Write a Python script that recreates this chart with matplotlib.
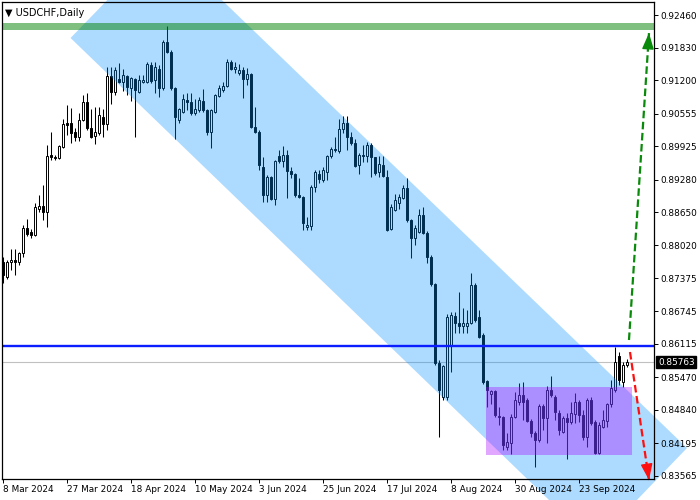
import matplotlib
matplotlib.use("Agg")
import matplotlib.pyplot as plt
from matplotlib.patches import Polygon, Rectangle
from matplotlib.transforms import blended_transform_factory
import numpy as np

plt.rcParams['font.family'] = ['DejaVu Sans']

chart_title = "\u25BC USDCHF,Daily"

opens = [
    0.87693, 0.87404, 0.87693, 0.87732, 0.87693, 0.87867, 0.88350, 0.88272, 0.88215, 0.88716,
    0.88774, 0.88658, 0.89759, 0.89720, 0.89701, 0.89913, 0.90376, 0.90376, 0.90202, 0.90106,
    0.90434, 0.90781, 0.90280, 0.90125, 0.90183, 0.90492, 0.90357, 0.91283, 0.90974, 0.91225,
    0.91167, 0.91283, 0.91052, 0.91225, 0.90974, 0.91167, 0.91167, 0.91496, 0.91206, 0.91418,
    0.91052, 0.91939, 0.91746, 0.91052, 0.90434, 0.90588, 0.90820, 0.90781, 0.90569, 0.90627,
    0.90801, 0.90627, 0.90202, 0.90588, 0.90897, 0.91013, 0.91090, 0.91553, 0.91418, 0.91341,
    0.91399, 0.91225, 0.91322, 0.90299, 0.90202, 0.89527, 0.88987, 0.89334, 0.88909, 0.89739,
    0.89643, 0.89759, 0.89450, 0.89392, 0.88987, 0.88948, 0.88369, 0.88388, 0.89141, 0.89392,
    0.89276, 0.89430, 0.89739, 0.89874, 0.89836, 0.90260, 0.90376, 0.90106, 0.89990, 0.89566,
    0.89759, 0.89739, 0.89952, 0.89720, 0.89430, 0.89566, 0.89334, 0.88330, 0.88697, 0.88832,
    0.88929, 0.89122, 0.88504, 0.88157, 0.88272, 0.88601, 0.88253, 0.87790, 0.87269, 0.85744,
    0.85088, 0.85088, 0.86092, 0.86651, 0.86516, 0.86458, 0.86458, 0.86516, 0.87250, 0.86632,
    0.86285, 0.85397, 0.85146, 0.85204, 0.84721, 0.84702, 0.84123, 0.84200, 0.84702, 0.84991,
    0.85127, 0.85030, 0.84625, 0.84393, 0.84258, 0.84914, 0.84683, 0.85223, 0.85088, 0.84779,
    0.84412, 0.84683, 0.84605, 0.84760, 0.84991, 0.84741, 0.84316, 0.85030, 0.84605, 0.84007,
    0.84509, 0.84625, 0.84953, 0.85223, 0.85879, 0.85377, 0.85706,
]
highs = [
    0.87790, 0.87732, 0.87944, 0.87944, 0.87880, 0.88408, 0.88523, 0.88330, 0.88832, 0.88987,
    0.89180, 0.89952, 0.90202, 0.89759, 0.89952, 0.90453, 0.90724, 0.90666, 0.90280, 0.90569,
    0.90917, 0.90955, 0.90646, 0.90685, 0.90685, 0.90646, 0.91457, 0.91457, 0.91457, 0.91534,
    0.91418, 0.91303, 0.91264, 0.91245, 0.91303, 0.91303, 0.91553, 0.91553, 0.91553, 0.91496,
    0.91978, 0.92248, 0.91785, 0.91071, 0.90666, 0.90936, 0.90955, 0.90955, 0.90839, 0.90878,
    0.91032, 0.90646, 0.90646, 0.90936, 0.91110, 0.91167, 0.91611, 0.91592, 0.91553, 0.91515,
    0.91457, 0.91438, 0.91341, 0.90685, 0.90241, 0.89720, 0.89373, 0.89353, 0.89662, 0.89855,
    0.89932, 0.89855, 0.89527, 0.89411, 0.89315, 0.88967, 0.88562, 0.89180, 0.89469, 0.89469,
    0.89527, 0.89759, 0.89913, 0.90106, 0.90453, 0.90511, 0.90511, 0.90202, 0.90067, 0.89797,
    0.89952, 0.90009, 0.89990, 0.89720, 0.89739, 0.89739, 0.89469, 0.88813, 0.89006, 0.89006,
    0.89180, 0.89315, 0.88523, 0.88408, 0.88716, 0.88755, 0.88292, 0.87829, 0.87288, 0.85802,
    0.85706, 0.86690, 0.86728, 0.86728, 0.87114, 0.86806, 0.86767, 0.87481, 0.87288, 0.86767,
    0.86323, 0.85416, 0.85223, 0.85223, 0.84895, 0.84721, 0.84393, 0.84760, 0.85184, 0.85358,
    0.85377, 0.85069, 0.84663, 0.84432, 0.84953, 0.84953, 0.85300, 0.85493, 0.85127, 0.84837,
    0.84721, 0.84779, 0.84991, 0.85165, 0.85030, 0.84837, 0.85069, 0.85088, 0.84644, 0.84605,
    0.84837, 0.84972, 0.85416, 0.86053, 0.85956, 0.85763, 0.85821,
]
lows = [
    0.87288, 0.87365, 0.87539, 0.87443, 0.87636, 0.87790, 0.88195, 0.88157, 0.88195, 0.88658,
    0.88504, 0.88369, 0.89662, 0.89662, 0.89681, 0.89894, 0.90145, 0.89990, 0.90029, 0.90029,
    0.90415, 0.90241, 0.90087, 0.89971, 0.90145, 0.90106, 0.90241, 0.90743, 0.90917, 0.91148,
    0.90994, 0.90917, 0.90801, 0.90106, 0.90955, 0.91148, 0.91148, 0.91148, 0.90955, 0.90878,
    0.91013, 0.91727, 0.91013, 0.90067, 0.90376, 0.90569, 0.90627, 0.90531, 0.90531, 0.90588,
    0.90588, 0.90145, 0.89894, 0.90569, 0.90878, 0.90974, 0.91071, 0.91399, 0.91341, 0.91303,
    0.90859, 0.91110, 0.90280, 0.90183, 0.89469, 0.88851, 0.88851, 0.88890, 0.88794, 0.89604,
    0.89527, 0.88929, 0.89315, 0.88948, 0.88929, 0.88311, 0.88311, 0.88311, 0.89044, 0.89218,
    0.89237, 0.89276, 0.89701, 0.89816, 0.89797, 0.90183, 0.89855, 0.89952, 0.89527, 0.89392,
    0.89623, 0.89623, 0.89334, 0.89373, 0.89334, 0.89334, 0.88292, 0.88311, 0.88678, 0.88716,
    0.88909, 0.88465, 0.87771, 0.88022, 0.88253, 0.88234, 0.87674, 0.87230, 0.85706, 0.84316,
    0.85030, 0.85030, 0.85570, 0.86323, 0.86323, 0.86323, 0.86323, 0.86497, 0.86535, 0.86227,
    0.85339, 0.84895, 0.84953, 0.84702, 0.84548, 0.84065, 0.84065, 0.83988, 0.84683, 0.84934,
    0.84644, 0.84605, 0.84316, 0.83737, 0.84219, 0.84451, 0.84200, 0.85088, 0.84644, 0.84355,
    0.84393, 0.83891, 0.84567, 0.84586, 0.84605, 0.84258, 0.84123, 0.84548, 0.83988, 0.83988,
    0.84490, 0.84509, 0.84895, 0.85184, 0.85320, 0.85281, 0.85667,
]
closes = [
    0.87443, 0.87693, 0.87732, 0.87693, 0.87867, 0.88350, 0.88234, 0.88215, 0.88755, 0.88774,
    0.88658, 0.89739, 0.89720, 0.89701, 0.89932, 0.90357, 0.90338, 0.90183, 0.90106, 0.90434,
    0.90781, 0.90280, 0.90106, 0.90202, 0.90531, 0.90357, 0.91283, 0.90974, 0.91399, 0.91167,
    0.91303, 0.91071, 0.91245, 0.91013, 0.91206, 0.91206, 0.91515, 0.91187, 0.91457, 0.91052,
    0.91939, 0.91746, 0.91052, 0.90492, 0.90646, 0.90839, 0.90781, 0.90569, 0.90646, 0.90820,
    0.90627, 0.90202, 0.90627, 0.90917, 0.91052, 0.91090, 0.91553, 0.91418, 0.91457, 0.91399,
    0.91225, 0.91322, 0.90299, 0.90202, 0.89566, 0.88987, 0.89334, 0.88909, 0.89643, 0.89643,
    0.89759, 0.89450, 0.89392, 0.88987, 0.88948, 0.88446, 0.88408, 0.89141, 0.89430, 0.89295,
    0.89469, 0.89739, 0.89874, 0.89855, 0.90260, 0.90376, 0.90106, 0.89990, 0.89546, 0.89759,
    0.89739, 0.89952, 0.89720, 0.89411, 0.89585, 0.89353, 0.88311, 0.88755, 0.88890, 0.88948,
    0.89122, 0.88504, 0.88157, 0.88350, 0.88601, 0.88253, 0.87790, 0.87269, 0.85744, 0.85223,
    0.85686, 0.86632, 0.86671, 0.86516, 0.86458, 0.86516, 0.86516, 0.87250, 0.86574, 0.86246,
    0.85377, 0.85223, 0.85204, 0.84741, 0.84702, 0.84162, 0.84219, 0.84702, 0.85030, 0.85127,
    0.84991, 0.84625, 0.84393, 0.84258, 0.84914, 0.84683, 0.85223, 0.85127, 0.84798, 0.84451,
    0.84683, 0.84605, 0.84779, 0.84991, 0.84741, 0.84316, 0.85030, 0.84586, 0.84007, 0.84548,
    0.84644, 0.84953, 0.85262, 0.85763, 0.85416, 0.85706, 0.85763,
]

date_labels = ["8 Mar 2024", "27 Mar 2024", "18 Apr 2024", "10 May 2024", "3 Jun 2024",
               "25 Jun 2024", "17 Jul 2024", "8 Aug 2024", "30 Aug 2024", "23 Sep 2024"]
date_label_bars = [0, 16, 32, 48, 64, 80, 96, 112, 128, 144]
price_ticks = [0.92460, 0.91830, 0.91200, 0.90555, 0.89925, 0.89280, 0.88650, 0.88020,
               0.87375, 0.86745, 0.86115, 0.85470, 0.84840, 0.84195, 0.83565]

last_price = 0.85763
resistance_level = 0.86080
target_zone = [0.92171, 0.92306]
channel_bars = [17.0, 40.0, 171.0, 147.9]
channel_prices = [0.92017, 0.93850, 0.84104, 0.82251]
range_bars = [120.75, 157.25]
range_prices = [0.83969, 0.85281]
up_arrow_bars = [156.5, 161.5]
up_arrow_prices = [0.86188, 0.92113]
down_arrow_bars = [156.75, 161.5]
down_arrow_prices = [0.85956, 0.83486]

W, H = 700, 500
fig = plt.figure(figsize=(W / 100, H / 100), dpi=100)
ax = fig.add_axes([1.5 / W, 21 / H, 652.5 / W, 477 / H])
ax.set_facecolor('white')

n = len(closes)
x = np.arange(n)
o = np.array(opens); h = np.array(highs); l = np.array(lows); c = np.array(closes)

ax.set_xlim(-0.25, 162.75)
ax.set_ylim(0.835053, 0.927114)

# current price line
ax.axhline(last_price, color='#c0c0c0', lw=0.8, zorder=1)

# candles
ax.vlines(x, l, h, color='black', lw=0.75, zorder=2)
bottoms = np.minimum(o, c)
heights = np.maximum(np.abs(c - o), 0.00004)
faces = ['white' if cc >= oo else 'black' for oo, cc in zip(o, c)]
ax.bar(x, heights, bottom=bottoms, width=0.5, color=faces, edgecolor='black',
       linewidth=0.7, zorder=2.1)

# channel
chan = Polygon(list(zip(channel_bars, channel_prices)), closed=True,
               facecolor=(0.0, 0.57, 1.0), alpha=0.32, edgecolor='none',
               zorder=3, clip_on=False)
ax.add_patch(chan)

# range box
box = Rectangle((range_bars[0], range_prices[0]), range_bars[1] - range_bars[0],
                range_prices[1] - range_prices[0], facecolor=(0.667, 0.0, 1.0),
                alpha=0.35, edgecolor='none', zorder=3.2)
ax.add_patch(box)

# target zone band
x0, x1 = ax.get_xlim()
band = Rectangle((x0, target_zone[0]), x1 - x0, target_zone[1] - target_zone[0],
                 facecolor=(0.0, 0.5, 0.0), alpha=0.5, edgecolor='none', zorder=3.4)
ax.add_patch(band)

# resistance line
ax.axhline(resistance_level, color='#0a1eff', lw=1.7, zorder=3.6)

# arrows
def dashed_arrow(xs, ys, color):
    ax.plot(xs, ys, color=color, lw=1.6, ls=(0, (3.4, 1.6)), zorder=4.5,
            clip_on=False, dash_capstyle='butt')
    tip = (xs[1], ys[1])
    frac = 0.04
    base = (xs[1] - (xs[1] - xs[0]) * frac, ys[1] - (ys[1] - ys[0]) * frac)
    ax.annotate('', xy=tip, xytext=base, annotation_clip=False,
                arrowprops=dict(arrowstyle='-|>,head_length=0.9,head_width=0.33',
                                color=color, lw=1.0, mutation_scale=11,
                                shrinkA=0, shrinkB=0), zorder=4.6)

dashed_arrow(up_arrow_bars, up_arrow_prices, '#0a8a0a')
dashed_arrow(down_arrow_bars, down_arrow_prices, '#ff1010')

# axes styling
for sp in ax.spines.values():
    sp.set_linewidth(0.9)
    sp.set_color('black')
    sp.set_zorder(6)
ax.xaxis.set_zorder(6)
ax.yaxis.set_zorder(6)

ax.yaxis.tick_right()
ax.set_yticks(price_ticks)
ax.set_yticklabels([f"{v:.5f}" for v in price_ticks])
ax.tick_params(axis='y', direction='out', length=3, width=0.7, pad=1.5,
               labelsize=6.4, colors='black')
ax.set_xticks(date_label_bars)
ax.set_xticklabels(date_labels)
ax.tick_params(axis='x', direction='out', length=3, width=0.7, pad=1.5,
               labelsize=6.4, colors='black')
for lab in ax.get_xticklabels():
    lab.set_horizontalalignment('left')

# title
ax.text(0.006, 0.988, chart_title, transform=ax.transAxes, va='top', ha='left',
        fontsize=7, color='black', zorder=7)

# last price label
tr = blended_transform_factory(ax.transAxes, ax.transData)
ax.text(1.006, last_price, f"{last_price:.5f}", transform=tr, va='center', ha='left',
        fontsize=6.4, color='white', zorder=8, clip_on=False,
        bbox=dict(boxstyle='square,pad=0.2', fc='black', ec='black'))

fig.savefig('out.png', dpi=100)
